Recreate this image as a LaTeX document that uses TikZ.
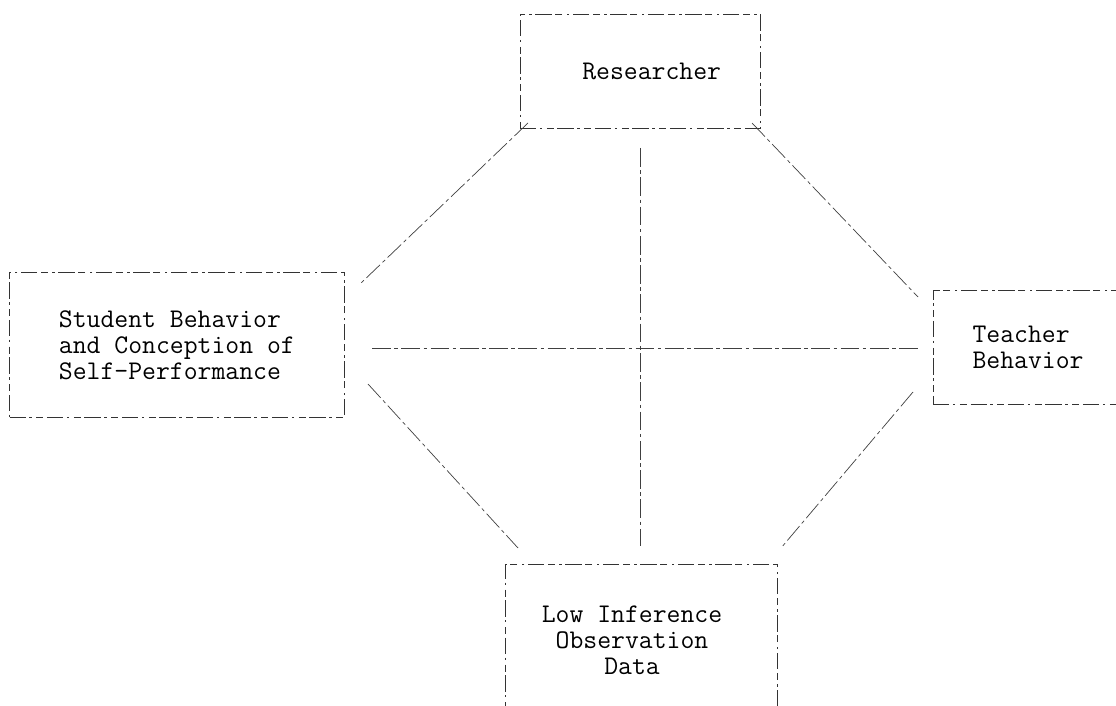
\documentclass[tikz,border=0pt]{standalone}
\usetikzlibrary{positioning,calc}

\begin{document}
\begin{tikzpicture}[x=0.03cm, y=-0.03cm,
        box/.style={draw=black!80, line width=0.7pt, dash pattern=on 14pt off 3pt on 2pt off 4pt on 6pt off 3pt, inner sep=0pt, font=\ttfamily\fontsize{23}{22}\selectfont},
        link/.style={draw=black!75, line width=0.6pt, dash pattern=on 16pt off 3pt on 3pt off 3pt}]
        \useasboundingbox (0,0) rectangle (1116,706);
        \clip (0,0) rectangle (1116,706);

        % boxes
        \node[box, minimum width=240*0.03cm, minimum height=114*0.03cm] (res) at (640,71) {\hspace*{20pt}Researcher};
        \node[box, minimum width=335*0.03cm, minimum height=145*0.03cm, align=left] (stu) at (177,345) {Student Behavior\\and Conception of\\Self-Performance\hspace*{12pt}};
        \node[box, minimum width=190*0.03cm, minimum height=114*0.03cm, align=left] (tea) at (1028,347) {Teacher\\Behavior};
        \node[box, minimum width=272*0.03cm, minimum height=170*0.03cm, anchor=north] (low) at (641,564) {};
        \node[font=\ttfamily\fontsize{23}{22}\selectfont, align=center] (lowtxt) at (632,640) {Low Inference\\Observation\\Data};

        % connector ends
        \coordinate (a1) at (528,123);
        \coordinate (a2) at (360,284);
        \coordinate (b1) at (752,123);
        \coordinate (b2) at (918,297);
        \coordinate (c1) at (368,384);
        \coordinate (c2) at (518,548);
        \coordinate (d1) at (913,392);
        \coordinate (d2) at (781,548);
        \coordinate (v1) at (640,148);
        \coordinate (v2) at (640,546);
        \coordinate (h1) at (372,348);
        \coordinate (h2) at (918,348);

        \draw[link] (a1) -- (a2);
        \draw[link] (b1) -- (b2);
        \draw[link] (c1) -- (c2);
        \draw[link] (d1) -- (d2);
        \draw[link] (v1) -- (v2);
        \draw[link] (h1) -- (h2);
    \end{tikzpicture}
\end{document}
